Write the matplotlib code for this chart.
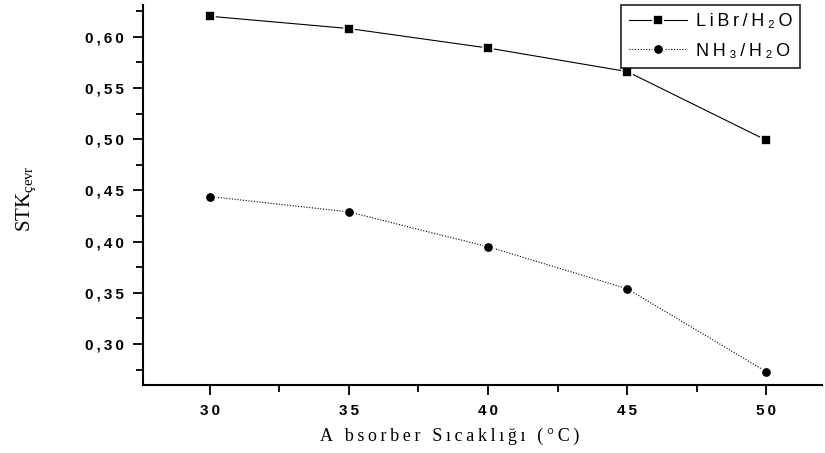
import matplotlib
matplotlib.use("Agg")
import matplotlib.pyplot as plt
from matplotlib.ticker import MultipleLocator, FuncFormatter

sicaklik = [30, 35, 40, 45, 50]
libr = [0.620, 0.608, 0.589, 0.566, 0.499]
nh3 = [0.444, 0.429, 0.395, 0.354, 0.273]

plt.rcParams["mathtext.fontset"] = "custom"
plt.rcParams["mathtext.rm"] = "Liberation Serif"
plt.rcParams["mathtext.it"] = "Liberation Serif:italic"

TS = "\u2009"  # ince bosluk, harf araligi icin


def aralikli(s):
    return TS.join(s)


fig = plt.figure(figsize=(8.25, 4.53), dpi=100)
ax = fig.add_axes([0.1733, 0.150, 0.823, 0.839])

ax.plot(sicaklik, libr, color="black", lw=0.8, marker="s", ms=7.5,
        mec="white", mew=1.2, label=aralikli("LiBr/H₂O"))
ax.plot(sicaklik, nh3, color="black", lw=0.8, ls=(0, (1, 1.5)), marker="o", ms=7.5,
        mec="white", mew=1.2, label=aralikli("NH₃/H₂O"))

ax.set_xlim(27.6, 52.0)
ax.set_ylim(0.26, 0.631)
ax.xaxis.set_major_locator(MultipleLocator(5))
ax.xaxis.set_minor_locator(MultipleLocator(2.5))
ax.yaxis.set_major_locator(MultipleLocator(0.05))
ax.yaxis.set_minor_locator(MultipleLocator(0.025))
ax.xaxis.set_major_formatter(FuncFormatter(lambda v, p: aralikli(f"{v:.0f}")))
ax.yaxis.set_major_formatter(FuncFormatter(lambda v, p: aralikli(f"{v:.2f}".replace(".", ","))))

for s in ["top", "right"]:
    ax.spines[s].set_visible(False)
for s in ["left", "bottom"]:
    ax.spines[s].set_linewidth(1.5)

ax.tick_params(which="major", direction="out", length=7, width=1.3, labelsize=11, pad=7)
ax.tick_params(which="minor", direction="out", length=5, width=1.3)
for t in ax.get_xticklabels() + ax.get_yticklabels():
    t.set_fontfamily("Liberation Sans")
    t.set_fontweight("bold")

ax.set_xlabel(aralikli("A bsorber Sıcaklığı (°C)"), family="Liberation Serif", fontsize=13)
ax.xaxis.set_label_coords(0.452, -0.112)
ax.set_ylabel(r"STK$_{\rm çevr}$", family="Liberation Serif", fontsize=15)
ax.yaxis.set_label_coords(-0.155, 0.49)

leg = ax.legend(loc="upper right", bbox_to_anchor=(0.968, 1.0), borderaxespad=0,
                frameon=True, fancybox=False, edgecolor="black", fontsize=13,
                handlelength=3.2, borderpad=0.45, labelspacing=0.7, handletextpad=0.5)
leg.get_frame().set_linewidth(1.3)
for t in leg.get_texts():
    t.set_fontfamily("Liberation Sans")

fig.savefig("out.png", dpi=100)
